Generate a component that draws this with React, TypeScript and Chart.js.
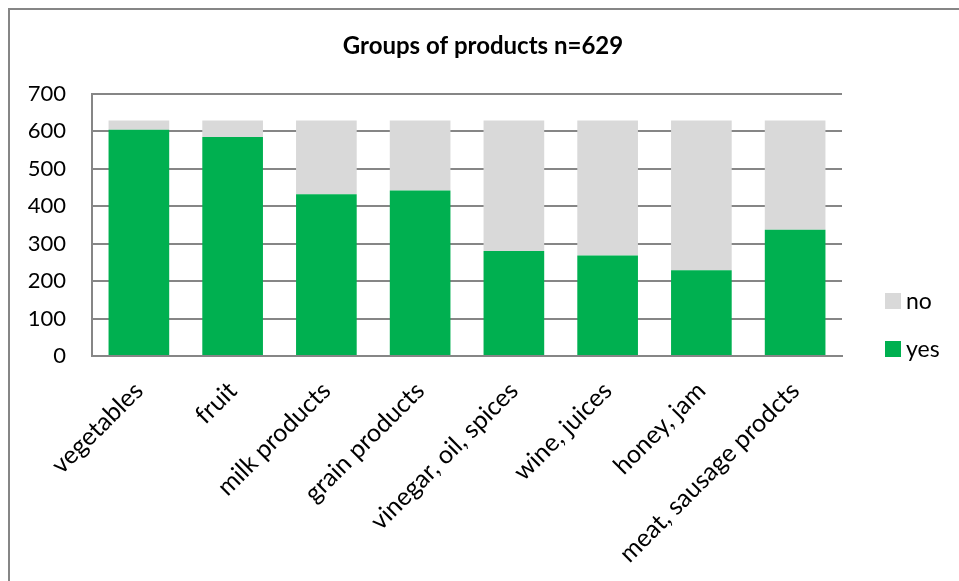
import React, { useEffect, useRef } from "react";
import { Chart, registerables } from "chart.js";

Chart.register(...registerables);

const categories = [
  "vegetables",
  "fruit",
  "milk products",
  "grain products",
  "vinegar, oil, spices",
  "wine, juices",
  "honey, jam",
  "meat, sausage prodcts",
];
const yesValues = [604, 585, 432, 442, 280, 268, 229, 337];
const noValues = [25, 44, 197, 187, 349, 361, 400, 292];
const yTicks = [0, 100, 200, 300, 400, 500, 600, 700];
const titleText = "Groups of products n=629";

const FONT = "Lato, 'Open Sans', sans-serif";
const GRID = "#868686";

const frame = {
  id: "frame",
  beforeDraw(chart: any) {
    const ctx = chart.ctx;
    ctx.save();
    ctx.fillStyle = "#ffffff";
    ctx.fillRect(0, 0, chart.width, chart.height);
    ctx.fillStyle = GRID;
    ctx.fillRect(8, 8, chart.width - 8, 2);
    ctx.fillRect(8, 8, 2, chart.height - 8);
    ctx.restore();
  },
};

const sideLegend = {
  id: "sideLegend",
  afterDraw(chart: any) {
    const ctx = chart.ctx;
    const ds = chart.data.datasets;
    ctx.save();
    ctx.font = `23px ${FONT}`;
    ctx.textBaseline = "middle";
    const x = 885;
    const startY = 301;
    const step = 48;
    for (let i = ds.length - 1, k = 0; i >= 0; i--, k++) {
      const cy = startY + k * step;
      ctx.fillStyle = ds[i].backgroundColor;
      ctx.fillRect(x, cy - 8, 16, 16);
      ctx.fillStyle = "#000";
      ctx.fillText(ds[i].label, x + 21, cy + 1);
    }
    ctx.restore();
  },
};

export default function App() {
  const ref = useRef<HTMLCanvasElement | null>(null);
  useEffect(() => {
    if (!ref.current) return;
    const chart = new Chart(ref.current, {
      type: "bar",
      data: {
        labels: categories,
        datasets: [
          {
            label: "yes",
            data: yesValues,
            backgroundColor: "#00B050",
            borderWidth: 0,
            categoryPercentage: 0.647,
            barPercentage: 1,
          },
          {
            label: "no",
            data: noValues,
            backgroundColor: "#D9D9D9",
            borderWidth: 0,
            categoryPercentage: 0.647,
            barPercentage: 1,
          },
        ],
      },
      options: {
        animation: false,
        responsive: false,
        layout: { padding: { left: 20, right: 13, top: 0, bottom: 0 } },
        plugins: {
          legend: { display: false },
          tooltip: { enabled: false },
          title: {
            display: true,
            text: titleText,
            color: "#000",
            font: { family: FONT, size: 24, weight: "bold" },
            padding: { top: 32, bottom: 33 },
          },
        },
        scales: {
          x: {
            stacked: true,
            grid: { display: false, drawTicks: false },
            border: { display: true, color: GRID, width: 2 },
            ticks: {
              color: "#000",
              font: { family: FONT, size: 25 },
              maxRotation: 45,
              minRotation: 45,
              padding: 20,
              autoSkip: false,
            },
            afterFit(scale: any) {
              scale.height = 225;
            },
          },
          y: {
            stacked: true,
            min: 0,
            max: 700,
            afterBuildTicks(scale: any) {
              scale.ticks = yTicks.map((v) => ({ value: v }));
            },
            grid: { color: GRID, lineWidth: 2, drawTicks: false },
            border: { display: true, color: GRID, width: 2 },
            ticks: {
              color: "#000",
              font: { family: FONT, size: 22 },
              padding: 26,
            },
            afterFit(scale: any) {
              scale.width = 72;
            },
          },
          yRight: {
            position: "right",
            display: true,
            grid: { display: false, drawTicks: false },
            border: { display: false },
            ticks: { display: false },
            afterFit(scale: any) {
              scale.width = 104;
            },
          },
        },
      },
      plugins: [frame, sideLegend],
    });
    return () => chart.destroy();
  }, []);
  return (
    <div style={{ position: "absolute", left: 0, top: 0, width: 959, height: 581 }}>
      <canvas ref={ref} width={959} height={581} style={{ display: "block" }} />
    </div>
  );
}
